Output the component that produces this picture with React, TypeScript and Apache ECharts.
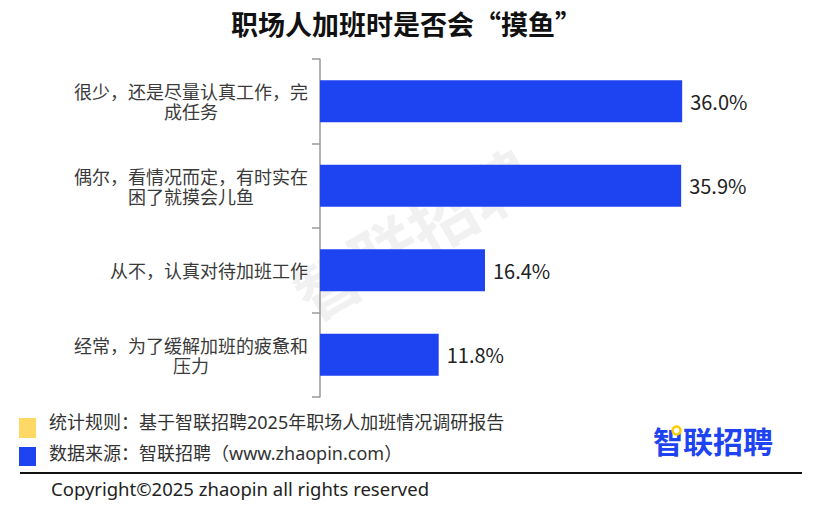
import React, { useEffect, useRef } from "react";
import * as echarts from "echarts";

const title = "职场人加班时是否会“摸鱼”";
const categories = [
  "很少，还是尽量认真工作，完成任务",
  "偶尔，看情况而定，有时实在困了就摸会儿鱼",
  "从不，认真对待加班工作",
  "经常，为了缓解加班的疲惫和压力",
];
const values = [36.0, 35.9, 16.4, 11.8];
const noteRule = "统计规则：基于智联招聘2025年职场人加班情况调研报告";
const noteSource = "数据来源：智联招聘（www.zhaopin.com）";
const copyright = "Copyright©2025 zhaopin all rights reserved";
const brand = "智联招聘";

const FONT = "'Noto Sans CJK SC', 'Noto Sans', sans-serif";
const MIXED = "'Noto Sans', 'Noto Sans CJK SC', sans-serif";
const BLUE = "#1E44F2";
const YELLOW = "#FFD966";

export default function App() {
  const ref = useRef<HTMLDivElement>(null);
  useEffect(() => {
    if (!ref.current) return;
    const chart = echarts.init(ref.current, undefined, { renderer: "svg" });
    chart.setOption({
      animation: false,
      backgroundColor: "#ffffff",
      textStyle: { fontFamily: FONT },
      title: {
        text: title,
        left: "center",
        top: 5,
        textStyle: { fontSize: 27, fontWeight: "bold", color: "#111", fontFamily: FONT },
      },
      grid: { left: 320, top: 59, width: 402.4, height: 338, containLabel: false },
      xAxis: {
        type: "value",
        min: 0,
        max: 40,
        show: false,
      },
      yAxis: {
        type: "category",
        inverse: true,
        data: categories,
        axisLine: { show: true, lineStyle: { color: "#9a9a9a", width: 1.5 } },
        axisTick: { show: true, length: 8, lineStyle: { color: "#9a9a9a", width: 1.5 } },
        axisLabel: {
          margin: 12,
          fontSize: 18,
          color: "#3a3a3a",
          fontFamily: FONT,
          formatter: (v: string) => {
            const n = 13;
            const lines: string[] = [];
            for (let i = 0; i < v.length; i += n) lines.push(v.slice(i, i + n));
            return lines.map((l) => "{c|" + l + "}").join("\n");
          },
          rich: {
            c: { align: "center", fontSize: 18, lineHeight: 20, color: "#3a3a3a", fontFamily: FONT },
          },
        },
      },
      series: [
        {
          type: "bar",
          data: values,
          barWidth: 42,
          itemStyle: { color: BLUE },
          label: {
            show: true,
            position: "right",
            distance: 8,
            fontSize: 20,
            color: "#222",
            fontFamily: FONT,
            formatter: (p: any) => p.value.toFixed(1) + "%",
          },
        },
      ],
      graphic: [
        {
          type: "text",
          x: 412,
          y: 232,
          rotation: (30 * Math.PI) / 180,
          z: -1,
          style: {
            text: brand,
            fill: "rgba(0,0,0,0.055)",
            font: "bold 66px " + FONT,
            align: "center",
            verticalAlign: "middle",
          },
        },
        { type: "rect", shape: { x: 19, y: 418, width: 17, height: 20 }, style: { fill: YELLOW } },
        { type: "rect", shape: { x: 19, y: 447, width: 17, height: 19 }, style: { fill: BLUE } },
        {
          type: "text",
          x: 49,
          y: 422,
          style: { text: noteRule, fill: "#333", font: "18px " + MIXED, verticalAlign: "middle" },
        },
        {
          type: "text",
          x: 49,
          y: 453,
          style: { text: noteSource, fill: "#333", font: "18px " + MIXED, verticalAlign: "middle" },
        },
        {
          type: "text",
          x: 653,
          y: 440,
          style: { text: brand, fill: BLUE, font: "bold 30px " + FONT, verticalAlign: "middle" },
        },
        {
          type: "circle",
          shape: { cx: 676.5, cy: 430.5, r: 4 },
          style: { fill: "#fff", stroke: "#FFCC00", lineWidth: 2.5 },
        },
        {
          type: "line",
          shape: { x1: 20, y1: 473, x2: 802, y2: 473 },
          style: { stroke: "#111", lineWidth: 2 },
        },
        {
          type: "text",
          x: 51,
          y: 488,
          style: { text: copyright, fill: "#222", font: "18.5px " + MIXED, verticalAlign: "middle" },
        },
      ],
    });
    return () => chart.dispose();
  }, []);
  return <div ref={ref} style={{ width: 813, height: 510, margin: -8 }} />;
}
